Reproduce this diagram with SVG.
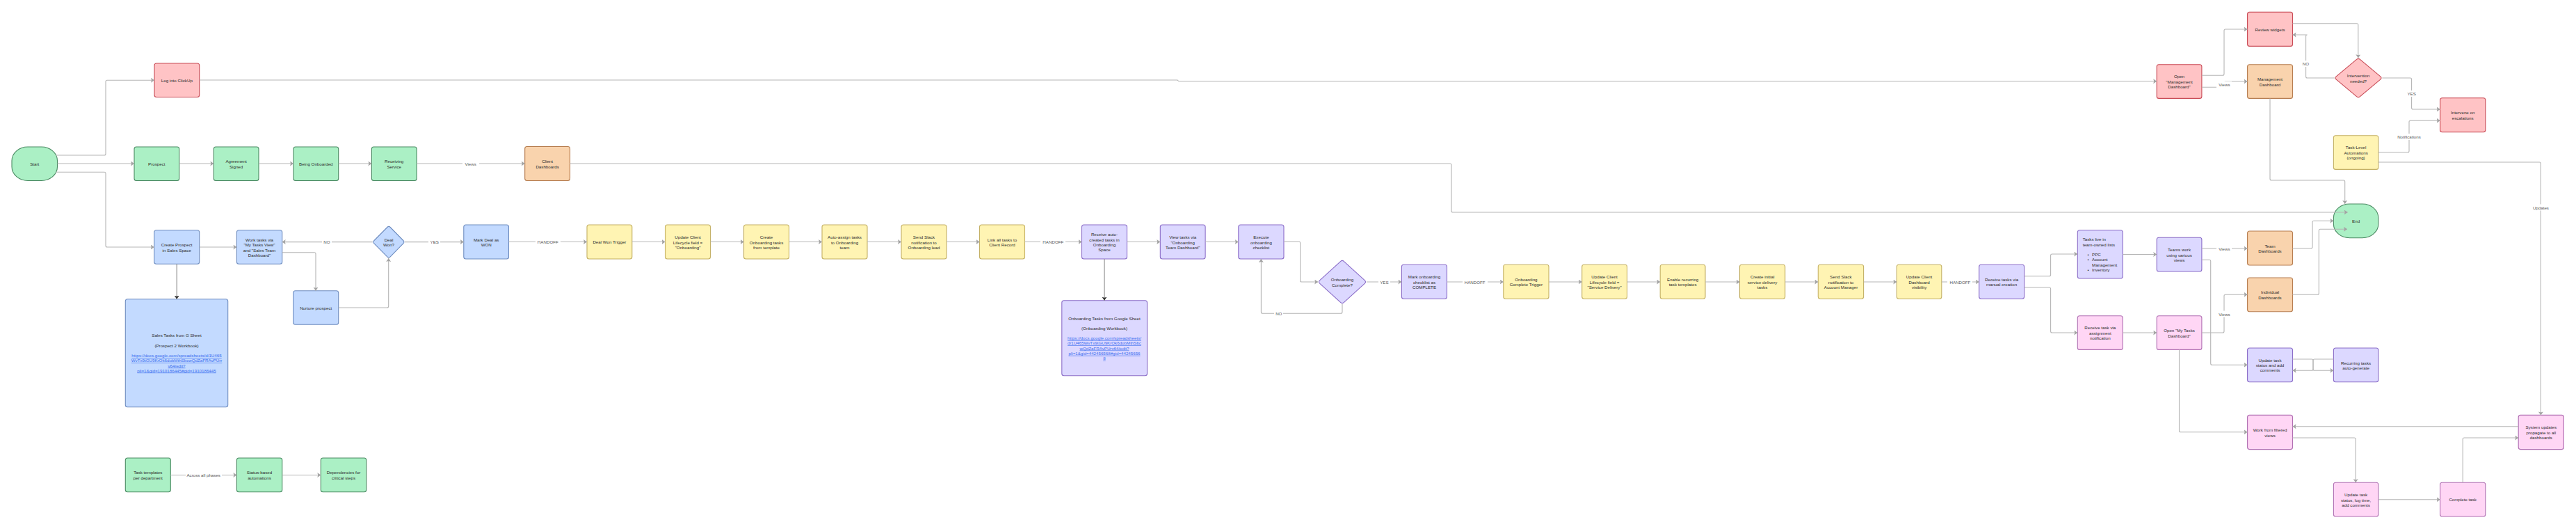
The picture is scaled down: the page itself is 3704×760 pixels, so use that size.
<svg xmlns="http://www.w3.org/2000/svg" width="3704" height="760" viewBox="0 0 3704 760">
<style>
text{font-family:"Liberation Sans",Arial,sans-serif;font-size:6.2px;fill:#2b2b2b;text-anchor:middle;dominant-baseline:central}
.n{stroke-width:1.1}
.green{fill:#abf0c5;stroke:#4a8a62}
.red{fill:#ffc3c5;stroke:#c94a55}
.blue{fill:#c3daff;stroke:#6f8dc0}
.yellow{fill:#fff4b3;stroke:#c4b064}
.orange{fill:#f9d3ad;stroke:#b67d50}
.purple{fill:#dcd8ff;stroke:#8a6cc8}
.pink{fill:#ffd6f5;stroke:#b06fb2}
.c{fill:none;stroke:#b5b5b5;stroke-width:1.1;marker-end:url(#arrow)}
.d{fill:none;stroke:#888;stroke-width:1.1;marker-end:url(#arrowDark)}
.lb{fill:#fff}
.lt{fill:#555}
.u{fill:#3b6ef0;text-decoration:underline}
.l{text-anchor:start}
</style>
<defs>
<marker id="arrow" markerUnits="userSpaceOnUse" markerWidth="6" markerHeight="8" refX="5" refY="3.5" orient="auto"><path d="M0 0L5 3.5L0 7L1 3.5z" fill="#a3a3a3"/></marker>
<marker id="arrowDark" markerUnits="userSpaceOnUse" markerWidth="6" markerHeight="8" refX="5" refY="3.5" orient="auto"><path d="M0 0L5 3.5L0 7L1 3.5z" fill="#333"/></marker>
</defs>
<rect width="3704" height="760" fill="#fff"/>

<g id="nodes">
<g id="start"><rect class="n green" x="17" y="211" width="65.5" height="48.5" rx="23" ry="20"/><text x="49.7" y="235">Start</text></g>
<g id="log"><rect class="n red" x="222" y="91" width="64.7" height="48.5" rx="3"/><text x="254.3" y="115">Log into ClickUp</text></g>
<g id="prospect"><rect class="n green" x="193" y="211" width="64.7" height="48.5" rx="3"/><text x="225.3" y="235">Prospect</text></g>
<g id="agreement"><rect class="n green" x="307.3" y="211" width="64.7" height="48.5" rx="3"/><text x="339.6" y="231.4">Agreement<tspan x="339.6" dy="7.2">Signed</tspan></text></g>
<g id="onboarded"><rect class="n green" x="422" y="211" width="64.7" height="48.5" rx="3"/><text x="454.3" y="235">Being Onboarded</text></g>
<g id="receiving"><rect class="n green" x="534.4" y="211" width="64.7" height="48.5" rx="3"/><text x="566.7" y="231.4">Receiving<tspan x="566.7" dy="7.2">Service</tspan></text></g>
<g id="client-dash"><rect class="n orange" x="754.7" y="210.5" width="64.8" height="49" rx="3"/><text x="787.1" y="231.4">Client<tspan x="787.1" dy="7.2">Dashboards</tspan></text></g>

<g id="create-prospect"><rect class="n blue" x="221.7" y="330.7" width="65" height="48.6" rx="3"/><text x="254.2" y="351.4">Create Prospect<tspan x="254.2" dy="7.2">in Sales Space</tspan></text></g>
<g id="work-tasks"><rect class="n blue" x="340.4" y="330.7" width="65.3" height="48.6" rx="3"/><text x="373" y="344.2">Work tasks via<tspan x="373" dy="7.2">"My Tasks View"</tspan><tspan x="373" dy="7.2">and "Sales Team</tspan><tspan x="373" dy="7.2">Dashboard"</tspan></text></g>
<g id="deal-won"><path class="n blue" d="M556.8 326.5Q559 324.3 561.2 326.5L579.8 345.5Q582 347.7 579.8 349.9L561.2 368.8Q559 371 556.8 368.8L538 349.9Q535.7 347.7 538 345.5Z"/><text x="559" y="344">Deal<tspan x="559" dy="7.2">Won?</tspan></text></g>
<g id="nurture"><rect class="n blue" x="421.7" y="417.7" width="65" height="48.6" rx="3"/><text x="454.2" y="442">Nurture prospect</text></g>
<g id="sales-tasks"><rect class="n blue" x="180.3" y="429.7" width="147.4" height="155" rx="3"/><text x="254" y="481.7">Sales Tasks from G Sheet</text><text x="254" y="496">(Prospect 2 Workbook)</text><text class="u" x="254" y="510.7">https://docs.google.com/spreadsheets/d/1U465</text><text class="u" x="254" y="517.8">WvTx9tGU9KrOk6dobMthSbcwQdZaFRAvPUrr</text><text class="u" x="254" y="525">v64/edit?</text><text class="u" x="254" y="532">pli=1&amp;gid=1910186445#gid=1910186445</text></g>
<g id="templates"><rect class="n green" x="180.3" y="658" width="65" height="48.7" rx="3"/><text x="212.8" y="678.8">Task templates<tspan x="212.8" dy="7.2">per department</tspan></text></g>
<g id="status"><rect class="n green" x="340.4" y="658" width="65.3" height="48.7" rx="3"/><text x="373" y="678.8">Status-based<tspan x="373" dy="7.2">automations</tspan></text></g>
<g id="dependencies"><rect class="n green" x="461.3" y="658" width="65.4" height="48.7" rx="3"/><text x="494" y="678.8">Dependencies for<tspan x="494" dy="7.2">critical steps</tspan></text></g>

<g id="mark-won"><rect class="n blue" x="666.8" y="323" width="64.7" height="49" rx="3"/><text x="699.2" y="344">Mark Deal as<tspan x="699.2" dy="7.2">WON</tspan></text></g>
<g id="deal-trigger"><rect class="n yellow" x="844" y="323" width="64.8" height="49" rx="3"/><text x="876.4" y="347.5">Deal Won Trigger</text></g>
<g id="update-lifecycle"><rect class="n yellow" x="956.5" y="323" width="65" height="49" rx="3"/><text x="989" y="340.3">Update Client<tspan x="989" dy="7.2">Lifecycle field =</tspan><tspan x="989" dy="7.2">"Onboarding"</tspan></text></g>
<g id="create-onb"><rect class="n yellow" x="1069.5" y="323" width="65" height="49" rx="3"/><text x="1102" y="340.3">Create<tspan x="1102" dy="7.2">Onboarding tasks</tspan><tspan x="1102" dy="7.2">from template</tspan></text></g>
<g id="auto-assign"><rect class="n yellow" x="1182" y="323" width="65" height="49" rx="3"/><text x="1214.5" y="340.3">Auto-assign tasks<tspan x="1214.5" dy="7.2">to Onboarding</tspan><tspan x="1214.5" dy="7.2">team</tspan></text></g>
<g id="slack-onb"><rect class="n yellow" x="1296" y="323" width="65" height="49" rx="3"/><text x="1328.5" y="340.3">Send Slack<tspan x="1328.5" dy="7.2">notification to</tspan><tspan x="1328.5" dy="7.2">Onboarding lead</tspan></text></g>
<g id="link-tasks"><rect class="n yellow" x="1408.5" y="323" width="65" height="49" rx="3"/><text x="1441" y="344">Link all tasks to<tspan x="1441" dy="7.2">Client Record</tspan></text></g>
<g id="receive-auto"><rect class="n purple" x="1555.5" y="323" width="65" height="49" rx="3"/><text x="1588" y="336.7">Receive auto-<tspan x="1588" dy="7.2">created tasks in</tspan><tspan x="1588" dy="7.2">Onboarding</tspan><tspan x="1588" dy="7.2">Space</tspan></text></g>
<g id="view-tasks"><rect class="n purple" x="1668.3" y="323" width="64.8" height="49" rx="3"/><text x="1700.7" y="340.3">View tasks via<tspan x="1700.7" dy="7.2">"Onboarding</tspan><tspan x="1700.7" dy="7.2">Team Dashboard"</tspan></text></g>
<g id="execute"><rect class="n purple" x="1780.8" y="323" width="65.2" height="49" rx="3"/><text x="1813.4" y="340.3">Execute<tspan x="1813.4" dy="7.2">onboarding</tspan><tspan x="1813.4" dy="7.2">checklist</tspan></text></g>
<g id="onb-tasks"><rect class="n purple" x="1526.8" y="431.7" width="122.7" height="108" rx="3"/><text x="1588" y="457">Onboarding Tasks from Google Sheet</text><text x="1588" y="471.3">(Onboarding Workbook)</text><text class="u" x="1588" y="485.7">https://docs.google.com/spreadsheets/</text><text class="u" x="1588" y="492.8">d/1U465WvTx9tGU9KrOk6dobMthSbc</text><text class="u" x="1588" y="500">wQdZaFRAvPUrv64/edit?</text><text class="u" x="1588" y="507.3">pli=1&amp;gid=442456568#gid=44245656</text><text class="u" x="1588" y="514.4">8</text></g>
<g id="onb-complete"><path class="n purple" d="M1927.5 375.6Q1930 373.3 1932.5 375.6L1962.2 402.7Q1964.8 405 1962.2 407.3L1932.5 434.4Q1930 436.7 1927.5 434.4L1897.8 407.3Q1895.2 405 1897.8 402.7Z"/><text x="1930" y="401.3">Onboarding<tspan x="1930" dy="7.2">Complete?</tspan></text></g>
<g id="mark-complete"><rect class="n purple" x="2015.4" y="380.3" width="65.1" height="49" rx="3"/><text x="2048" y="397.6">Mark onboarding<tspan x="2048" dy="7.2">checklist as</tspan><tspan x="2048" dy="7.2">COMPLETE</tspan></text></g>
<g id="complete-trigger"><rect class="n yellow" x="2161.8" y="380.3" width="65.2" height="49" rx="3"/><text x="2194.4" y="401.2">Onboarding<tspan x="2194.4" dy="7.2">Complete Trigger</tspan></text></g>
<g id="update-sd"><rect class="n yellow" x="2274.7" y="380.3" width="64.8" height="49" rx="3"/><text x="2307.1" y="397.6">Update Client<tspan x="2307.1" dy="7.2">Lifecycle field =</tspan><tspan x="2307.1" dy="7.2">"Service Delivery"</tspan></text></g>
<g id="recurring-enable"><rect class="n yellow" x="2387.2" y="380.3" width="64.8" height="49" rx="3"/><text x="2419.6" y="401.2">Enable recurring<tspan x="2419.6" dy="7.2">task templates</tspan></text></g>
<g id="initial-tasks"><rect class="n yellow" x="2501.5" y="380.3" width="65.2" height="49" rx="3"/><text x="2534.1" y="397.6">Create initial<tspan x="2534.1" dy="7.2">service delivery</tspan><tspan x="2534.1" dy="7.2">tasks</tspan></text></g>
<g id="slack-am"><rect class="n yellow" x="2614.3" y="380.3" width="65.3" height="49" rx="3"/><text x="2647" y="397.6">Send Slack<tspan x="2647" dy="7.2">notification to</tspan><tspan x="2647" dy="7.2">Account Manager</tspan></text></g>
<g id="update-visibility"><rect class="n yellow" x="2727.3" y="380.3" width="64.5" height="49" rx="3"/><text x="2759.6" y="397.6">Update Client<tspan x="2759.6" dy="7.2">Dashboard</tspan><tspan x="2759.6" dy="7.2">visibility</tspan></text></g>
<g id="manual"><rect class="n purple" x="2845.7" y="380.3" width="64.9" height="49" rx="3"/><text x="2878.1" y="401.2">Receive tasks via<tspan x="2878.1" dy="7.2">manual creation</tspan></text></g>
<g id="tasks-live"><rect class="n purple" x="2987.3" y="330.7" width="64.9" height="69.3" rx="3"/><text class="l" x="2994.7" y="343.7">Tasks live in</text><text class="l" x="2994.7" y="351">team-owned lists</text><text class="l" x="3001.6" y="365.7">•</text><text class="l" x="3008" y="365.7">PPC</text><text class="l" x="3001.6" y="372.8">•</text><text class="l" x="3008" y="372.8">Account</text><text class="l" x="3008" y="380">Management</text><text class="l" x="3001.6" y="387">•</text><text class="l" x="3008" y="387">Inventory</text></g>
<g id="teams-work"><rect class="n purple" x="3101.2" y="341.2" width="64.7" height="48.8" rx="3"/><text x="3133.5" y="358.4">Teams work<tspan x="3133.5" dy="7.2">using various</tspan><tspan x="3133.5" dy="7.2">views</tspan></text></g>
<g id="receive-assign"><rect class="n pink" x="2987.3" y="453.7" width="64.9" height="48.7" rx="3"/><text x="3019.8" y="470.8">Receive task via<tspan x="3019.8" dy="7.2">assignment</tspan><tspan x="3019.8" dy="7.2">notification</tspan></text></g>
<g id="my-tasks"><rect class="n pink" x="3101.2" y="453.7" width="64.7" height="48.7" rx="3"/><text x="3133.5" y="474.4">Open "My Tasks<tspan x="3133.5" dy="7.2">Dashboard"</tspan></text></g>

<g id="open-mgmt"><rect class="n red" x="3101.2" y="92.7" width="64.7" height="48.7" rx="3"/><text x="3133.5" y="109.8">Open<tspan x="3133.5" dy="7.2">"Management</tspan><tspan x="3133.5" dy="7.2">Dashboard"</tspan></text></g>
<g id="review"><rect class="n red" x="3231.6" y="17.4" width="64.9" height="49" rx="3"/><text x="3264" y="42">Review widgets</text></g>
<g id="mgmt-dash"><rect class="n orange" x="3231.6" y="92.7" width="64.9" height="48.7" rx="3"/><text x="3264" y="113.4">Management<tspan x="3264" dy="7.2">Dashboard</tspan></text></g>
<g id="intervention"><path class="n red" d="M3388.5 85.4Q3391 83.3 3393.5 85.4L3422.8 109.9Q3425.3 112 3422.8 114.1L3393.5 138.6Q3391 140.7 3388.5 138.6L3359.2 114.1Q3356.7 112 3359.2 109.9Z"/><text x="3391" y="108.3">Intervention<tspan x="3391" dy="7.2">needed?</tspan></text></g>
<g id="intervene"><rect class="n red" x="3508.6" y="140.7" width="65.2" height="49" rx="3"/><text x="3541.2" y="161.4">Intervene on<tspan x="3541.2" dy="7.2">escalations</tspan></text></g>
<g id="task-level"><rect class="n yellow" x="3355.4" y="194.7" width="64.4" height="48.7" rx="3"/><text x="3387.6" y="211.6">Task-Level<tspan x="3387.6" dy="7.2">Automations</tspan><tspan x="3387.6" dy="7.2">(ongoing)</tspan></text></g>
<g id="end"><rect class="n green" x="3355.4" y="293" width="64.4" height="48.7" rx="23" ry="20"/><text x="3387.6" y="317.3">End</text></g>
<g id="team-dash"><rect class="n orange" x="3231.6" y="332" width="64.9" height="49" rx="3"/><text x="3264" y="353">Team<tspan x="3264" dy="7.2">Dashboards</tspan></text></g>
<g id="indiv-dash"><rect class="n orange" x="3231.6" y="399" width="64.9" height="48.7" rx="3"/><text x="3264" y="419.7">Individual<tspan x="3264" dy="7.2">Dashboards</tspan></text></g>
<g id="update-comments"><rect class="n purple" x="3231.6" y="500" width="64.9" height="48.7" rx="3"/><text x="3264" y="517">Update task<tspan x="3264" dy="7.2">status and add</tspan><tspan x="3264" dy="7.2">comments</tspan></text></g>
<g id="recurring"><rect class="n purple" x="3355.4" y="500" width="64.4" height="48.7" rx="3"/><text x="3387.6" y="521">Recurring tasks<tspan x="3387.6" dy="7.2">auto-generate</tspan></text></g>
<g id="filtered"><rect class="n pink" x="3231.6" y="596.4" width="64.9" height="49.2" rx="3"/><text x="3264" y="617.4">Work from filtered<tspan x="3264" dy="7.2">views</tspan></text></g>
<g id="update-log"><rect class="n pink" x="3355.4" y="693.3" width="64.4" height="48.7" rx="3"/><text x="3387.6" y="710.4">Update task<tspan x="3387.6" dy="7.2">status, log time,</tspan><tspan x="3387.6" dy="7.2">add comments</tspan></text></g>
<g id="complete"><rect class="n pink" x="3508.6" y="693.3" width="65.2" height="48.7" rx="3"/><text x="3541.2" y="717.7">Complete task</text></g>
<g id="system"><rect class="n pink" x="3621.2" y="596.4" width="65.2" height="49.2" rx="3"/><text x="3653.8" y="613.6">System updates<tspan x="3653.8" dy="7.2">propagate to all</tspan><tspan x="3653.8" dy="7.2">dashboards</tspan></text></g>
</g>

<g id="connectors">
<path class="c" d="M80 223H150Q152 223 152 221V117.3Q152 115.3 154 115.3H222"/>
<path class="c" d="M82.6 235H193"/>
<path class="c" d="M80 247.3H150Q152 247.3 152 249.3V353Q152 355 154 355H221.7"/>
<path class="c" d="M286.7 115H1693L1695 116.8H3101.2"/>
<path class="c" d="M257.7 235H307.3"/>
<path class="c" d="M372 235H422"/>
<path class="c" d="M486.7 235H534.4"/>
<path class="c" d="M599.1 235H754.7"/>
<path class="c" d="M819.5 235H2085Q2087 235 2087 237V303Q2087 305 2089 305H3375.7"/>
<path class="c" d="M286.7 355H340.4"/>
<path class="d" d="M254.2 379.3V429.7"/>
<path class="c" d="M535.7 347.6H405.7"/>
<path class="c" d="M405.7 362.7H452Q454 362.7 454 364.7V417.7"/>
<path class="c" d="M486.7 442H556.7Q558.7 442 558.7 440V371"/>
<path class="c" d="M582 347.6H666.8"/>
<path class="c" d="M731.5 347.5H844"/>
<path class="c" d="M908.8 347.5H956.5"/>
<path class="c" d="M1021.5 347.5H1069.5"/>
<path class="c" d="M1134.5 347.5H1182"/>
<path class="c" d="M1247 347.5H1296"/>
<path class="c" d="M1361 347.5H1408.5"/>
<path class="c" d="M1473.5 347.5H1555.5"/>
<path class="c" d="M1620.5 347.5H1668.3"/>
<path class="c" d="M1733.1 347.5H1780.8"/>
<path class="d" d="M1588 372V431.7"/>
<path class="c" d="M1846 347H1867.6Q1869.6 347 1869.6 349V403Q1869.6 405 1871.6 405H1895.2"/>
<path class="c" d="M1930 436.7V448.3Q1930 450.3 1928 450.3H1815.4Q1813.4 450.3 1813.4 448.3V372"/>
<path class="c" d="M1964.8 405H2015.4"/>
<path class="c" d="M2080.5 405H2161.8"/>
<path class="c" d="M2227 405H2274.7"/>
<path class="c" d="M2339.5 405H2387.2"/>
<path class="c" d="M2452 405H2501.5"/>
<path class="c" d="M2566.7 405H2614.3"/>
<path class="c" d="M2679.6 405H2727.3"/>
<path class="c" d="M2791.8 405H2845.7"/>
<path class="c" d="M2910.6 396.7H2946.6Q2948.6 396.7 2948.6 394.7V367Q2948.6 365 2950.6 365H2987.3"/>
<path class="c" d="M2910.6 413H2946.6Q2948.6 413 2948.6 415V476Q2948.6 478 2950.6 478H2987.3"/>
<path class="c" d="M3052.2 365.5H3101.2"/>
<path class="c" d="M3052.2 478H3101.2"/>
<path class="c" d="M3165.9 357H3231.6"/>
<path class="c" d="M3165.9 373.3H3176.7Q3178.7 373.3 3178.7 375.3V522.3Q3178.7 524.3 3180.7 524.3H3231.6"/>
<path class="c" d="M3165.9 478H3196Q3198 478 3198 476V425.3Q3198 423.3 3200 423.3H3231.6"/>
<path class="c" d="M3133.5 502.4V618.7Q3133.5 620.7 3135.5 620.7H3231.6"/>
<path class="c" d="M3165.9 108.3H3196Q3198 108.3 3198 106.3V44Q3198 42 3200 42H3231.6"/>
<path class="c" d="M3165.9 125.3H3196Q3198 125.3 3198 123.3V119Q3198 117 3200 117H3231.6"/>
<path class="c" d="M3296.5 33.7H3388.8Q3390.8 33.7 3390.8 35.7V83.3"/>
<path class="c" d="M3356.7 112H3317.6Q3315.6 112 3315.6 110V52Q3315.6 50 3317.6 50H3296.5"/>
<path class="c" d="M3425.3 112H3465.6Q3467.6 112 3467.6 114V155Q3467.6 157 3469.6 157H3508.6"/>
<path class="c" d="M3419.8 219H3462Q3464 219 3464 217V175.3Q3464 173.3 3466 173.3H3508.6"/>
<path class="c" d="M3419.8 233H3651.4Q3653.4 233 3653.4 235V596.4"/>
<path class="c" d="M3264 141.4V257Q3264 259 3266 259H3369.7Q3371.7 259 3371.7 261V293"/>
<path class="c" d="M3296.5 356.7H3323Q3325 356.7 3325 354.7V319.3Q3325 317.3 3327 317.3H3355.4"/>
<path class="c" d="M3296.5 423.3H3332.3Q3334.3 423.3 3334.3 421.3V331.3Q3334.3 329.3 3336.3 329.3H3375"/>
<path class="c" d="M3296.5 516H3324Q3326 516 3326 518V530.3Q3326 532.3 3328 532.3H3355.4"/>
<path class="c" d="M3355.4 516H3328Q3326 516 3326 518V530.3Q3326 532.3 3324 532.3H3296.5"/>
<path class="c" d="M3621.2 612.7H3296.5"/>
<path class="c" d="M3296.5 629H3385.2Q3387.2 629 3387.2 631V693.3"/>
<path class="c" d="M3419.8 717.7H3508.6"/>
<path class="c" d="M3541.2 693.3V631Q3541.2 629 3543.2 629H3621.2"/>
<path class="c" d="M245.3 682.5H340.4"/>
<path class="c" d="M405.7 682.5H461.3"/>

<g id="labels">
<rect class="lb" x="665" y="230" width="24" height="10"/><text class="lt" x="676.6" y="235">Views</text>
<rect class="lb" x="463" y="343" width="14" height="9"/><text class="lt" x="470" y="347.5">NO</text>
<rect class="lb" x="616" y="343" width="17" height="9"/><text class="lt" x="624.7" y="347.5">YES</text>
<rect class="lb" x="770" y="343" width="36" height="9"/><text class="lt" x="787.8" y="347.5">HANDOFF</text>
<rect class="lb" x="1496" y="343" width="36" height="9"/><text class="lt" x="1514.3" y="347.5">HANDOFF</text>
<rect class="lb" x="1832" y="446" width="13" height="9"/><text class="lt" x="1838.8" y="450.3">NO</text>
<rect class="lb" x="1982" y="400.5" width="17" height="9"/><text class="lt" x="1990.4" y="405">YES</text>
<rect class="lb" x="2103" y="400.5" width="36" height="9"/><text class="lt" x="2120.7" y="405">HANDOFF</text>
<rect class="lb" x="2800" y="400.5" width="36" height="9"/><text class="lt" x="2818.4" y="405">HANDOFF</text>
<rect class="lb" x="267" y="678" width="52" height="9"/><text class="lt" x="292.7" y="682.6">Across all phases</text>
<rect class="lb" x="3187" y="117" width="22" height="9"/><text class="lt" x="3198.4" y="121.3">Views</text>
<rect class="lb" x="3187" y="352.5" width="22" height="9"/><text class="lt" x="3198.4" y="357">Views</text>
<rect class="lb" x="3187" y="446.5" width="22" height="9"/><text class="lt" x="3198.4" y="451">Views</text>
<rect class="lb" x="3309" y="87" width="13" height="9"/><text class="lt" x="3315.4" y="91.3">NO</text>
<rect class="lb" x="3460" y="130" width="15" height="9"/><text class="lt" x="3467.6" y="134.3">YES</text>
<rect class="lb" x="3445" y="192" width="38" height="9"/><text class="lt" x="3464" y="196.3">Notifications</text>
<rect class="lb" x="3640" y="293.5" width="27" height="9"/><text class="lt" x="3653.4" y="298">Updates</text>
</g>
</g>
</svg>
